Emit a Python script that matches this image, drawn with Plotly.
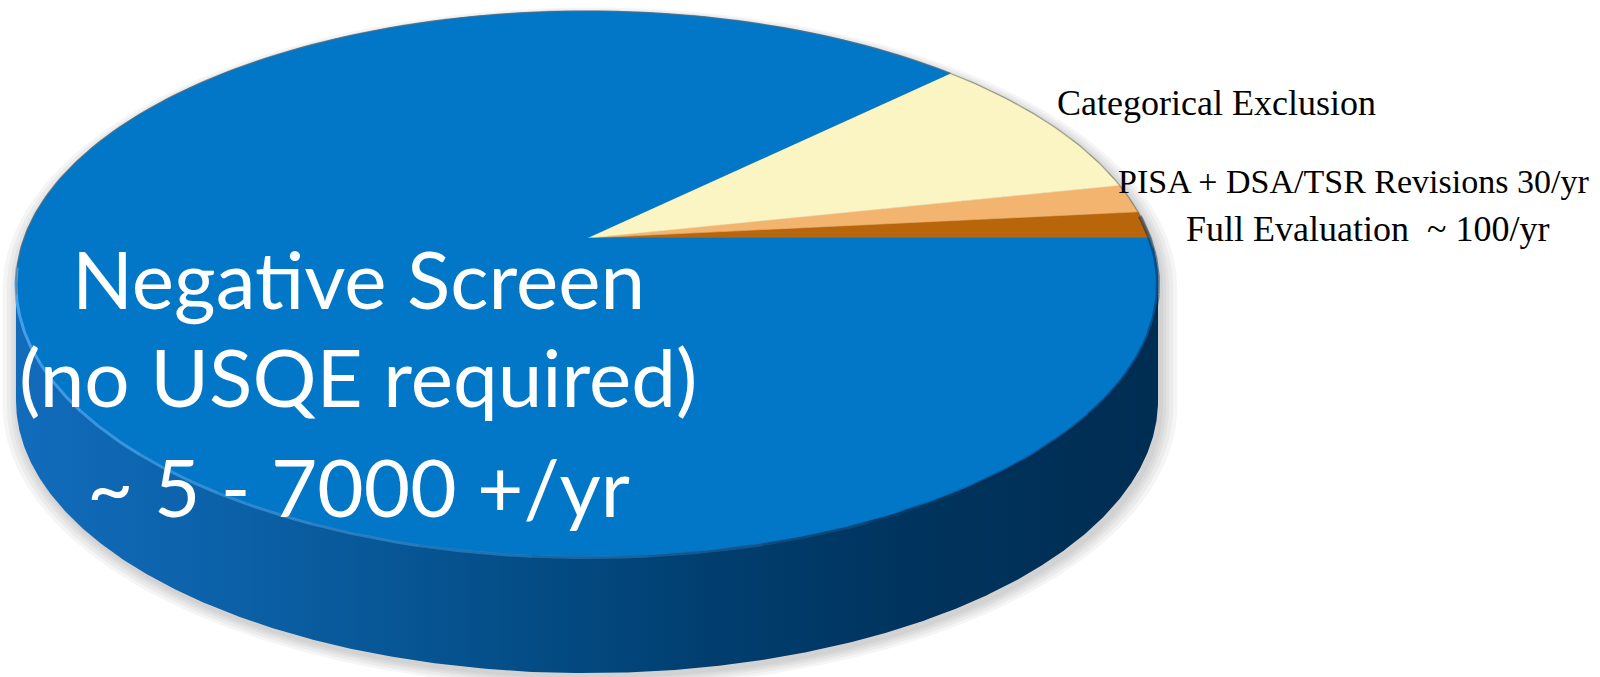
import numpy as np
import plotly.graph_objects as go

# ---------------- data ----------------
categories = ["Full Evaluation", "PISA + DSA/TSR Revisions", "Categorical Exclusion", "Negative Screen"]
shares = [1.6, 1.7, 8.9, 87.8]          # percent of the pie
slice_colors = ["#b8650b", "#f3b46f", "#fbf4c3", "#0277c7"]
main_label_lines = ["Negative Screen", "(no USQE required)", "~ 5 - 7000 +/yr"]
side_labels = ["Categorical Exclusion",
               "PISA + DSA/TSR Revisions 30/yr",
               "Full Evaluation&nbsp;&nbsp;~ 100/yr"]

# ---------------- 3D-pie projection (perspective homography) ----------------
X0, Y0, SX, SY, K, DEPTH = 587.0, 238.0, 563.0, 265.0, 0.167, 117.0


def proj(t, dy=0.0, grow=0.0, ox=0.0):
    u, v = np.cos(t), np.sin(t)
    w = 1 + K * v
    return X0 + ox + (SX + grow) * u / w, Y0 - (SY + grow * 0.55) * v / w + dy


fig = go.Figure()

# find silhouette extremes
tt = np.linspace(0, 2 * np.pi, 3601)
xx, _ = proj(tt)
tR = tt[np.argmax(xx)]
tL = tt[np.argmin(xx)]
if tR < tL:
    tR += 2 * np.pi


def hull(grow=0.0, ox=0.0, oy=0.0):
    ta = np.linspace(tR - 2 * np.pi, tL, 400)
    tb = np.linspace(tL, tR, 400)
    x1, y1 = proj(ta, oy, grow, ox)
    x2, y2 = proj(tb, DEPTH + oy, grow, ox)
    return np.concatenate([x1, x2, x1[:1]]), np.concatenate([y1, y2, y1[:1]])


# soft shadow
for g in [16, 12, 8, 5, 2]:
    hx, hy = hull(g, 3, 4)
    fig.add_trace(go.Scatter(x=hx, y=hy, mode="lines", fill="toself",
                             line=dict(width=0), fillcolor="rgba(120,120,120,0.07)",
                             hoverinfo="skip"))

# side of the cylinder
hx, hy = hull()
fig.add_trace(go.Scatter(
    x=hx, y=hy, mode="lines", fill="toself", line=dict(width=0),
    fillgradient=dict(type="horizontal",
                      colorscale=[[0, "#126cbc"], [0.2, "#0b60a6"], [0.42, "#054f8a"],
                                  [0.6, "#013f70"], [0.78, "#00345e"], [1, "#002d52"]]),
    hoverinfo="skip"))

# top face slices
cum = np.concatenate([[0], np.cumsum(shares)]) / np.sum(shares) * 2 * np.pi
for i, name in enumerate(categories):
    t = np.linspace(cum[i], cum[i + 1], max(8, int(600 * shares[i] / 100)))
    xs, ys = proj(t)
    px = np.concatenate([[X0], xs, [X0]])
    py = np.concatenate([[Y0], ys, [Y0]])
    fig.add_trace(go.Scatter(x=px, y=py, mode="lines", fill="toself",
                             fillcolor=slice_colors[i],
                             line=dict(width=0.6, color=slice_colors[i]),
                             name=name, hoverinfo="name"))

# rim highlight on the front edge, fading to the right
segs = np.linspace(np.deg2rad(186), np.deg2rad(305), 13)
for j in range(len(segs) - 1):
    t = np.linspace(segs[j], segs[j + 1], 20)
    xs, ys = proj(t, 1.5)
    a = 0.9 * (1 - j / (len(segs) - 1))
    fig.add_trace(go.Scatter(x=xs, y=ys, mode="lines",
                             line=dict(width=3, color=f"rgba(80,170,240,{a:.2f})"),
                             hoverinfo="skip"))

# darker shading on the right rim of the top face
segs = np.linspace(np.deg2rad(290), np.deg2rad(365), 10)
for j in range(len(segs) - 1):
    t = np.linspace(segs[j], segs[j + 1], 20)
    xs, ys = proj(t, 1.0)
    a = 0.5 * min(1.0, j / 4)
    fig.add_trace(go.Scatter(x=xs, y=ys, mode="lines",
                             line=dict(width=4, color=f"rgba(0,40,80,{a:.2f})"),
                             hoverinfo="skip"))

# thin grey outline on the back edge
t = np.linspace(np.deg2rad(-2), np.deg2rad(192), 300)
xs, ys = proj(t)
fig.add_trace(go.Scatter(x=xs, y=ys, mode="lines",
                         line=dict(width=1.4, color="rgba(110,110,110,0.55)"),
                         hoverinfo="skip"))

# ---------------- labels ----------------
main_y = [278, 376, 486]
for txt, y in zip(main_label_lines, main_y):
    fig.add_annotation(x=358, y=y, xref="x", yref="y", text=txt, showarrow=False,
                       xanchor="center", yanchor="middle",
                       font=dict(family="Lato", size=80, color="white"))

side_pos = [(1216, 103, 36), (1353, 181, 34), (1367, 229, 36)]
for txt, (x, y, s) in zip(side_labels, side_pos):
    fig.add_annotation(x=x, y=y, xref="x", yref="y", text=txt, showarrow=False,
                       xanchor="center", yanchor="middle",
                       font=dict(family="Liberation Serif", size=s, color="black"))

fig.update_layout(
    width=1600, height=677, margin=dict(l=0, r=0, t=0, b=0),
    paper_bgcolor="white", plot_bgcolor="white", showlegend=False,
    xaxis=dict(range=[0, 1600], visible=False, fixedrange=True),
    yaxis=dict(range=[677, 0], visible=False, fixedrange=True),
)

fig.write_html("out.html")
